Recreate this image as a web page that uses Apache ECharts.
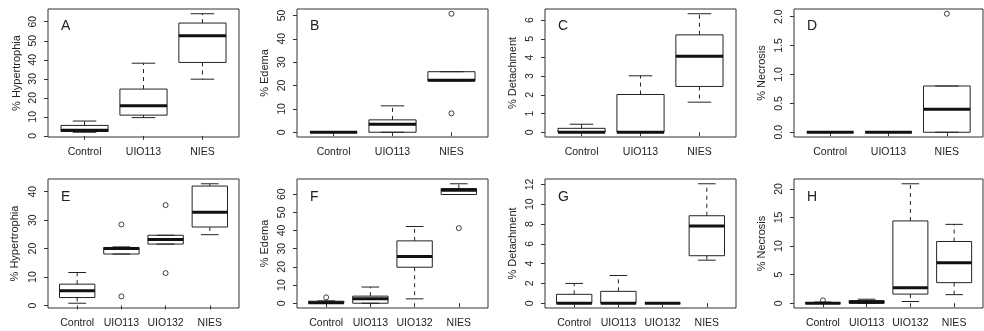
<!DOCTYPE html>
<html><head><meta charset="utf-8">
<script src="https://cdn.jsdelivr.net/npm/echarts@6/dist/echarts.min.js"></script>
<style>html,body{margin:0;padding:0;background:#fff}#c{width:984px;height:331px}</style>
</head><body><div id="c"></div>
<script>
// ---------- data ----------
const catsTop = ['Control', 'UIO113', 'NIES'];
const catsBottom = ['Control', 'UIO113', 'UIO132', 'NIES'];
const panelLetters = ['A', 'B', 'C', 'D', 'E', 'F', 'G', 'H'];
const yNames = ['% Hypertrophia', '% Edema', '% Detachment', '% Necrosis',
                '% Hypertrophia', '% Edema', '% Detachment', '% Necrosis'];
// box statistics per category: [min, Q1, median, Q3, max]
const statsA = [[1.9, 2.3, 3.0, 5.5, 7.8], [9.6, 10.9, 15.8, 24.6, 38.2], [29.8, 38.6, 52.6, 59.3, 64.2]];
const statsB = [[0, 0, 0, 0, 0], [0, 0, 3.4, 5.3, 11.3], [22.0, 22.0, 22.2, 25.9, 25.9]];
const statsC = [[0, 0, 0, 0.21, 0.43], [0, 0, 0, 2.02, 3.02], [1.61, 2.45, 4.07, 5.21, 6.34]];
const statsD = [[0, 0, 0, 0, 0], [0, 0, 0, 0, 0], [0, 0, 0.40, 0.80, 0.80]];
const statsE = [[0.8, 2.8, 5.2, 7.5, 11.6], [18.1, 18.1, 20.0, 20.4, 20.6], [21.6, 21.6, 23.2, 24.7, 24.7], [24.9, 27.6, 32.8, 42.0, 42.8]];
const statsF = [[0, 0, 0.2, 1.1, 1.3], [0, 0, 2.4, 3.9, 8.9], [2.4, 19.8, 25.7, 34.3, 42.2], [59.8, 59.8, 62.2, 63.1, 65.7]];
const statsG = [[0, 0, 0, 0.9, 2.0], [0, 0, 0, 1.2, 2.8], [0, 0, 0, 0, 0], [4.35, 4.8, 7.8, 8.84, 12.07]];
const statsH = [[0, 0, 0, 0.1, 0.2], [0, 0, 0.18, 0.47, 0.7], [0.3, 1.6, 2.7, 14.4, 20.9], [1.5, 3.6, 7.1, 10.8, 13.8]];
// outliers: [category position (1-based), value]
const outA = [];
const outB = [[3, 8.1], [3, 50.7]];
const outC = [];
const outD = [[3, 2.05]];
const outE = [[2, 3.2], [2, 28.5], [3, 11.4], [3, 35.3]];
const outF = [[1, 3.2], [4, 41.3]];
const outG = [];
const outH = [[1, 0.5]];
// y tick labels
const ticksA = [0, 10, 20, 30, 40, 50, 60];
const ticksB = [0, 10, 20, 30, 40, 50];
const ticksC = [0, 1, 2, 3, 4, 5, 6];
const ticksD = [0, 0.5, 1.0, 1.5, 2.0];
const ticksE = [0, 10, 20, 30, 40];
const ticksF = [0, 10, 20, 30, 40, 50, 60];
const ticksG = [0, 2, 4, 6, 8, 10, 12];
const ticksH = [0, 5, 10, 15, 20];

// ---------- layout ----------
const panels = [
  {cats: catsTop, stats: statsA, out: outA, ticks: ticksA},
  {cats: catsTop, stats: statsB, out: outB, ticks: ticksB},
  {cats: catsTop, stats: statsC, out: outC, ticks: ticksC},
  {cats: catsTop, stats: statsD, out: outD, ticks: ticksD, dec: 1},
  {cats: catsBottom, stats: statsE, out: outE, ticks: ticksE},
  {cats: catsBottom, stats: statsF, out: outF, ticks: ticksF},
  {cats: catsBottom, stats: statsG, out: outG, ticks: ticksG},
  {cats: catsBottom, stats: statsH, out: outH, ticks: ticksH}
];
const colLeft = [48, 297, 545, 794];
const colWidth = [191, 191, 191, 189];
const rowTop = [9, 179];
const rowHeight = [128, 129];
const nameGaps = [26, 27, 27, 27, 28, 27, 27, 27];
const FONT = 'Liberation Sans, Arial, sans-serif';
const INK = '#222';

const grid = [], xAxis = [], yAxis = [], series = [], title = [];
panels.forEach((p, i) => {
  const col = i % 4, row = Math.floor(i / 4);
  const n = p.cats.length;
  grid.push({left: colLeft[col], top: rowTop[row], width: colWidth[col], height: rowHeight[row],
    show: true, borderColor: '#333', borderWidth: 1, backgroundColor: 'transparent', containLabel: false});
  let lo = Infinity, hi = -Infinity;
  p.stats.forEach(s => { lo = Math.min(lo, s[0]); hi = Math.max(hi, s[4]); });
  p.out.forEach(o => { lo = Math.min(lo, o[1]); hi = Math.max(hi, o[1]); });
  const ext = (hi - lo) * 0.04;
  const pos = p.cats.map((c, k) => k + 1);
  xAxis.push({type: 'value', gridIndex: i, min: 0.5 - 0.04 * n, max: n + 0.5 + 0.04 * n,
    axisLine: {show: false}, splitLine: {show: false},
    axisTick: {show: true, customValues: pos, length: 4, lineStyle: {color: '#333'}},
    axisLabel: {customValues: pos, formatter: v => p.cats[Math.round(v) - 1], margin: 10,
      fontSize: 10.5, color: INK, fontFamily: FONT}});
  yAxis.push({type: 'value', gridIndex: i, min: lo - ext, max: hi + ext,
    axisLine: {show: false}, splitLine: {show: false},
    axisTick: {show: true, customValues: p.ticks, length: 4, lineStyle: {color: '#333'}},
    axisLabel: {customValues: p.ticks, rotate: 90, margin: 9, fontSize: 10.5, color: INK, fontFamily: FONT,
      formatter: v => p.dec ? v.toFixed(p.dec) : String(v)},
    name: yNames[i], nameLocation: 'middle', nameRotate: 90, nameGap: nameGaps[i],
    nameTextStyle: {fontSize: 11, color: INK, fontFamily: FONT}});
  series.push({type: 'custom', xAxisIndex: i, yAxisIndex: i, silent: true,
    data: p.stats.map((s, k) => [k + 1].concat(s)),
    encode: {x: 0, y: [1, 2, 3, 4, 5]},
    renderItem: (params, api) => {
      const x = api.value(0);
      const v = [1, 2, 3, 4, 5].map(d => api.coord([x, api.value(d)]));
      const cx = v[2][0];
      const hw = api.coord([x + 0.4, 0])[0] - cx;
      const sw = hw / 2;
      const line = (x1, y1, x2, y2, extra) => ({type: 'line', shape: {x1, y1, x2, y2},
        style: Object.assign({stroke: '#222', lineWidth: 1}, extra || {})});
      return {type: 'group', children: [
        line(cx, v[3][1], cx, v[4][1], {lineDash: [4, 4]}),
        line(cx, v[1][1], cx, v[0][1], {lineDash: [4, 4]}),
        line(cx - sw, v[4][1], cx + sw, v[4][1]),
        line(cx - sw, v[0][1], cx + sw, v[0][1]),
        {type: 'rect', shape: {x: cx - hw, y: v[3][1], width: 2 * hw, height: v[1][1] - v[3][1]},
          style: {fill: 'none', stroke: '#222', lineWidth: 1}},
        line(cx - hw, v[2][1], cx + hw, v[2][1], {lineWidth: 3, stroke: '#111'})
      ]};
    }});
  series.push({type: 'scatter', xAxisIndex: i, yAxisIndex: i, silent: true, data: p.out,
    symbol: 'circle', symbolSize: 5,
    itemStyle: {color: 'rgba(0,0,0,0)', borderColor: '#111', borderWidth: 1}});
  title.push({text: panelLetters[i], left: colLeft[col] + 13, top: rowTop[row] + 10 + row, padding: 0,
    textStyle: {fontSize: 14, fontWeight: 'normal', color: INK, fontFamily: FONT}});
});

const chart = echarts.init(document.getElementById('c'), null, {renderer: 'canvas'});
chart.setOption({animation: false, backgroundColor: '#fff', title, grid, xAxis, yAxis, series});
</script>
</body></html>
